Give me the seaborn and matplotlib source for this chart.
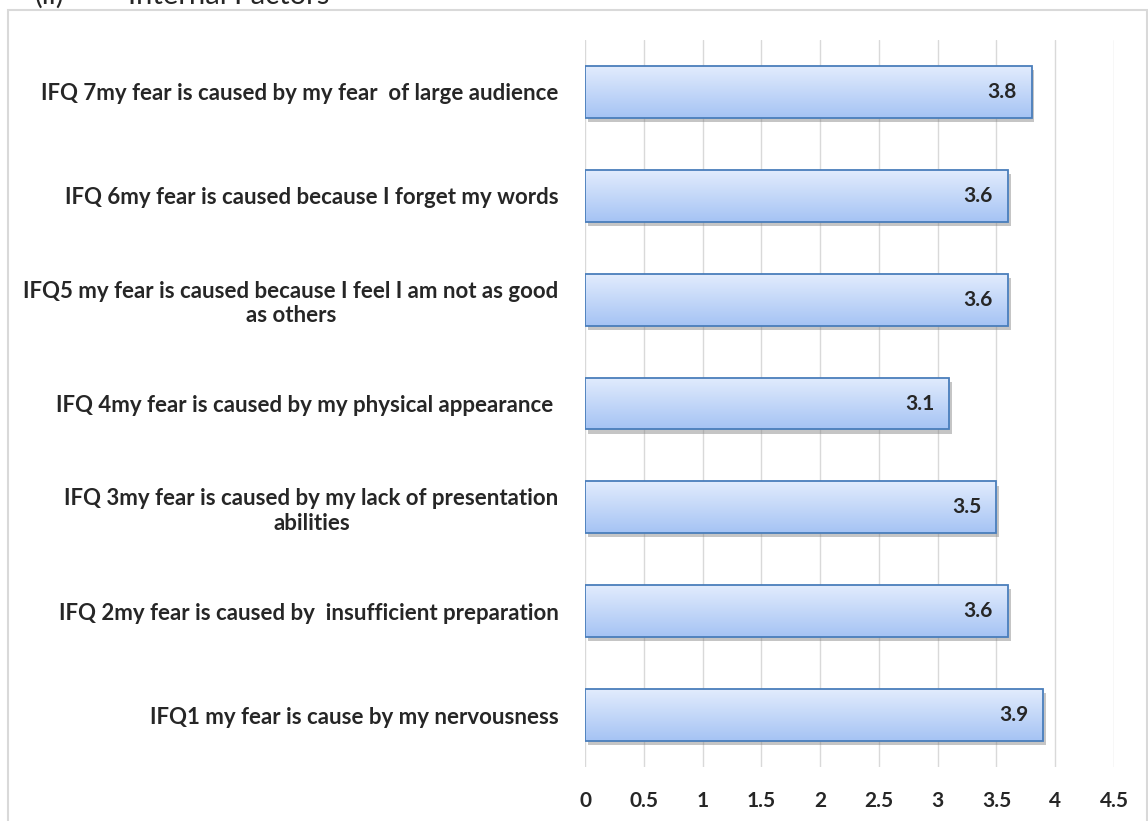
import numpy as np
import pandas as pd
import seaborn as sns
import matplotlib.pyplot as plt
import matplotlib.patheffects as pe
from matplotlib.patches import Rectangle
from matplotlib.colors import LinearSegmentedColormap

# data, top to bottom as in the chart
questions = [
    "IFQ 7my fear is caused by my fear  of large audience",
    "IFQ 6my fear is caused because I forget my words",
    "IFQ5 my fear is caused because I feel I am not as good\nas others",
    "IFQ 4my fear is caused by my physical appearance ",
    "IFQ 3my fear is caused by my lack of presentation\nabilities",
    "IFQ 2my fear is caused by  insufficient preparation",
    "IFQ1 my fear is cause by my nervousness",
]
scores = [3.8, 3.6, 3.6, 3.1, 3.5, 3.6, 3.9]
x_ticks = [0, 0.5, 1, 1.5, 2, 2.5, 3, 3.5, 4, 4.5]

df = pd.DataFrame({'question': questions, 'score': scores})

sns.set_style('white')
plt.rcParams['font.family'] = ['Lato', 'DejaVu Sans']

fig = plt.figure(figsize=(11.48, 8.21), dpi=100)
ax = fig.add_axes([585/1148, 1 - 767/821, (1114-585)/1148, (767-40)/821])

sns.barplot(data=df, x='score', y='question', orient='h', width=0.5,
            color='#c5d9f8', edgecolor='#4a7ebb', linewidth=1.3, ax=ax)

# gradient fill + soft shadow on each bar
grad = np.linspace(0, 1, 256).reshape(-1, 1)
cmap = LinearSegmentedColormap.from_list('bar', ['#e2ecfd', '#a5c3f4'])
for bar in ax.patches:
    x0, y0 = bar.get_x(), bar.get_y()
    w, h = bar.get_width(), bar.get_height()
    shadow = Rectangle((x0, y0), w, h, facecolor='white', edgecolor='none', zorder=1.5,
                       path_effects=[pe.SimplePatchShadow(offset=(2, -3), shadow_rgbFace='#808080', alpha=0.45),
                                     pe.Normal()])
    ax.add_patch(shadow)
    im = ax.imshow(grad, cmap=cmap, extent=[x0, x0 + w, y0 + h, y0], aspect='auto',
                   origin='upper', zorder=2)
    im.set_clip_path(bar)
    bar.set_facecolor('none')
    bar.set_zorder(3)

for i, v in enumerate(scores):
    ax.annotate(f'{v}', (v, i), xytext=(-11, 0), textcoords='offset points',
                ha='right', va='center', fontsize=15, fontweight='bold', zorder=4)

ax.set_xlim(0, 4.5)
ax.set_ylim(6.5, -0.5)
ax.set_xticks(x_ticks)
ax.set_xticklabels([f'{t:g}' for t in x_ticks], fontsize=15, fontweight='bold')
ax.set_yticks(range(len(questions)))
ax.set_yticklabels(questions, fontsize=16, fontweight='bold', multialignment='center')
ax.tick_params(axis='x', length=0, pad=17)
ax.tick_params(axis='y', length=0, pad=19)
ax.set_xlabel('')
ax.set_ylabel('')
ax.grid(axis='x', color='#d9d9d9', linewidth=1)
ax.set_axisbelow(True)
for s in ax.spines.values():
    s.set_visible(False)

# outer frame and the cut-off heading
fig.add_artist(Rectangle((8/1148, -0.01), (1147-8)/1148, 1.01 - 10/821, transform=fig.transFigure,
                         fill=False, edgecolor='#d9d9d9', linewidth=1.5))
fig.text(35/1148, 1 - 4/821, '(ii)', fontsize=21, va='baseline')
fig.text(128/1148, 1 - 4/821, 'Internal Factors', fontsize=21, va='baseline')

plt.savefig('out.png', dpi=100)
